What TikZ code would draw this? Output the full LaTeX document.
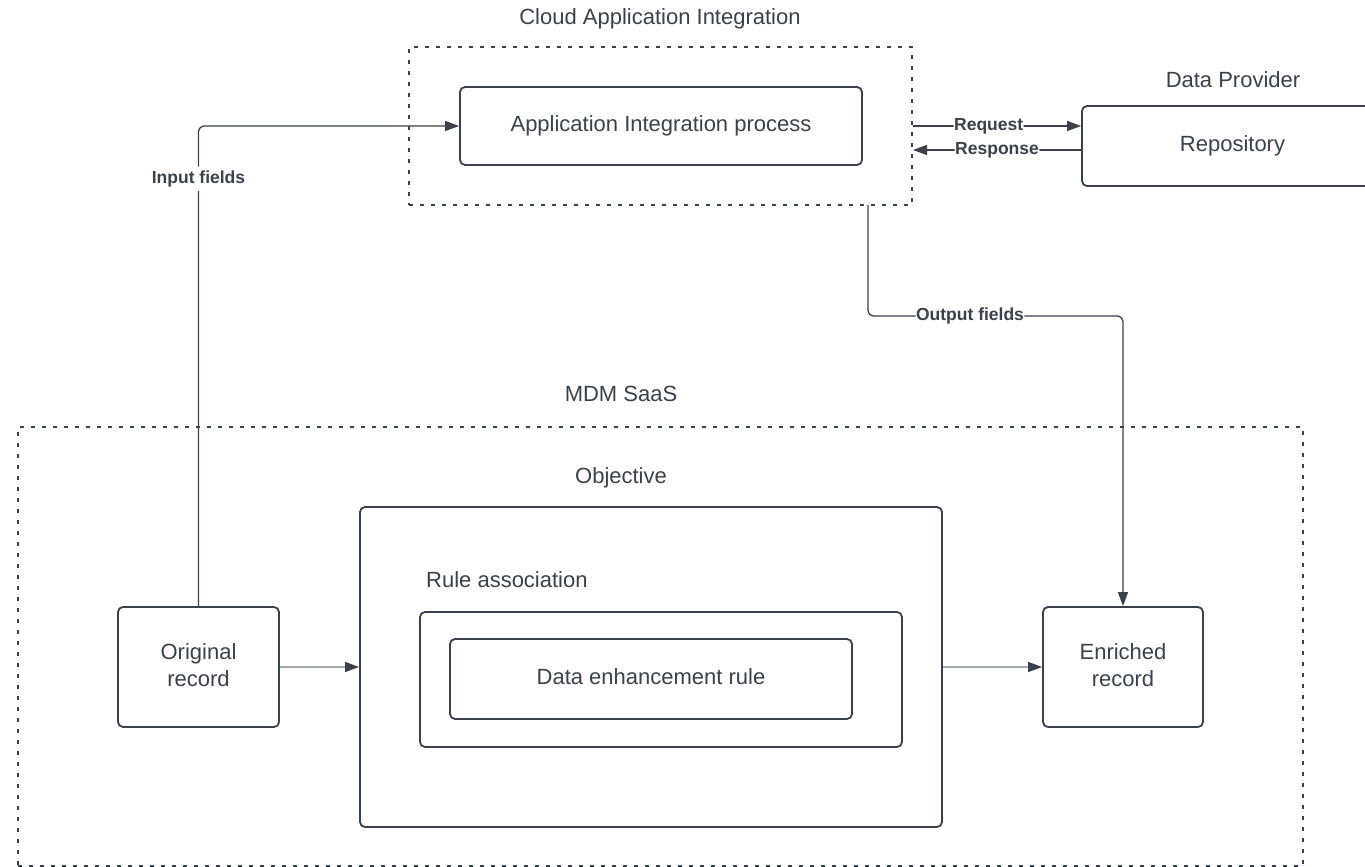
\documentclass[tikz,border=0pt]{standalone}
\usepackage{fontspec}
\setmainfont{Liberation Sans}
\usetikzlibrary{arrows.meta}

\definecolor{ink}{HTML}{3A414A}
\definecolor{wire}{HTML}{A3A8AF}

\tikzset{
  box/.style={draw=ink, line width=1.8pt, rounded corners=5pt, text=ink,
    font=\fontsize{22}{27}\selectfont, align=center, inner sep=0pt,
    text height=16pt, text depth=5pt},
  twoline/.style={text height=43pt},
  group/.style={draw=ink, line width=2pt, dash pattern=on 4pt off 7pt, inner sep=0pt},
  title/.style={text=ink, font=\fontsize{22}{27}\selectfont, inner sep=0pt},
  lbl/.style={fill=white, text=ink, font=\fontsize{17.5}{20}\selectfont\bfseries,
    inner xsep=0.5pt, inner ysep=4pt},
  conn/.style={draw=ink, line width=1.3pt, rounded corners=6pt,
    -{Triangle[length=14pt,width=10pt]}},
  flow/.style={draw=wire, line width=1.3pt,
    -{Triangle[length=14pt,width=10pt,color=ink]}},
}

\begin{document}
\begin{tikzpicture}[x=1pt, y=-1pt]
\useasboundingbox (0,0) rectangle (1365,867);
\clip (0,0) rectangle (1365,867);

% groups
\node[group, minimum width=503pt, minimum height=158pt] (cai) at (660.5,126) {};
\node[group, minimum width=1285pt, minimum height=439pt] (mdm) at (660.5,646.5) {};

% titles
\node[title, anchor=base] at (660,25) {Cloud Application Integration};
\node[title, anchor=base] at (1233,87) {Data Provider};
\node[title, anchor=base] at (621,401) {MDM SaaS};
\node[title, anchor=base] at (621,483) {Objective};
\node[title, anchor=base west] at (426,587) {Rule association};

% boxes
\node[box, minimum width=402pt, minimum height=78pt] (aip) at (661,126) {Application Integration process};
\node[box, minimum width=301pt, minimum height=80pt] (repo) at (1232.5,146) {Repository};
\node[box, twoline, minimum width=161pt, minimum height=120pt] (orig) at (198.5,667) {Original\\record};
\node[box, minimum width=582pt, minimum height=320pt] (obj) at (651,667) {};
\node[box, minimum width=482pt, minimum height=135pt] (rule) at (661,679.5) {};
\node[box, minimum width=402pt, minimum height=80pt] (der) at (651,679) {Data enhancement rule};
\node[box, twoline, minimum width=160pt, minimum height=120pt] (enr) at (1123,667) {Enriched\\record};

% connectors
\coordinate (outsrc) at (868,205);
\draw[conn] (orig.north) -- (orig.north |- aip.west) node[lbl, pos=0.89] {Input fields} -- (aip.west);
\draw[conn] (outsrc) -- (outsrc |- 0,316) -- node[lbl, pos=0.4] {Output fields} (enr.north |- 0,316) -- (enr.north);
\draw[conn] (cai.east |- 0,126) -- node[lbl, pos=0.45] {Request} (repo.west |- 0,126);
\draw[conn] (repo.west |- 0,150) -- node[lbl] {Response} (cai.east |- 0,150);
\draw[flow] (orig.east) -- (obj.west);
\draw[flow] (obj.east) -- (enr.west);

\end{tikzpicture}
\end{document}
